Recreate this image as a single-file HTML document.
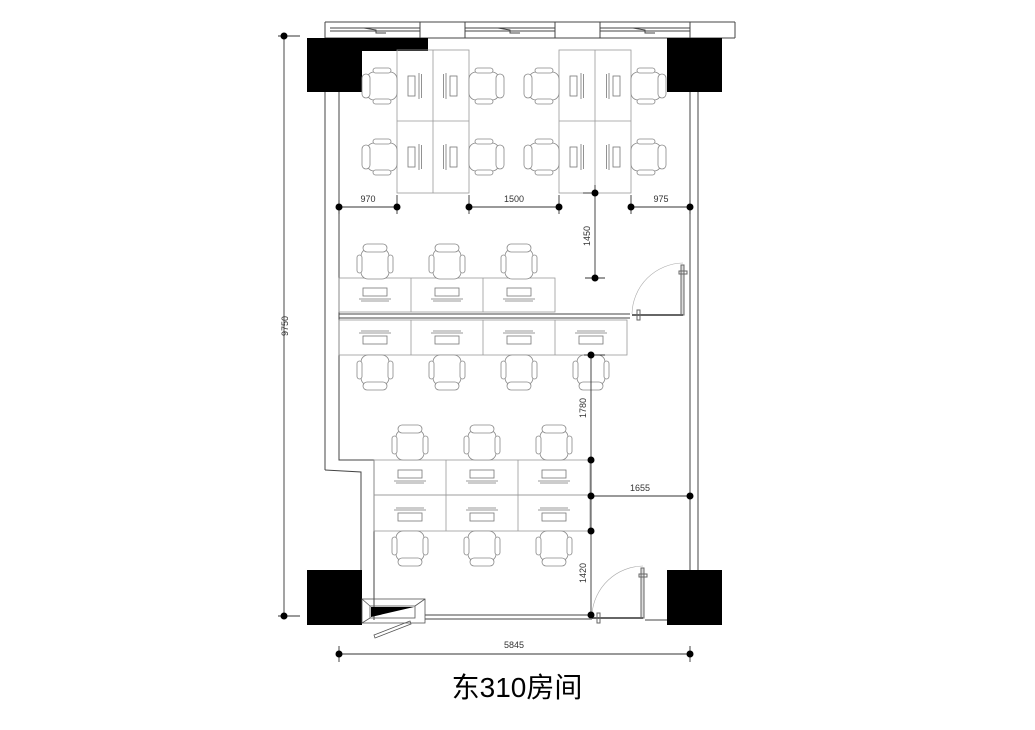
<!DOCTYPE html>
<html><head><meta charset="utf-8"><style>
html,body{margin:0;padding:0;background:#fff;}
svg{display:block;}
text{font-family:"Liberation Sans",sans-serif;}
</style></head><body>
<svg width="1035" height="730" viewBox="0 0 1035 730" xmlns="http://www.w3.org/2000/svg">
<defs>
<g id="ch" fill="#fff" stroke="#888" stroke-width="0.8">
<rect x="-14" y="-13" width="28" height="30" rx="7"/>
<rect x="-12" y="-18" width="24" height="8" rx="4"/>
<rect x="-18" y="-7" width="5" height="18" rx="2.5"/>
<rect x="13" y="-7" width="5" height="18" rx="2.5"/>
</g>
<g id="pcd" fill="none" stroke="#777" stroke-width="0.8">
<rect x="-12" y="-7" width="24" height="8"/>
<line x1="-16" y1="4" x2="16" y2="4"/><line x1="-14" y1="6" x2="14" y2="6"/>
</g>
<g id="pcv" fill="none" stroke="#777" stroke-width="0.8">
<rect x="-12" y="-10" width="7" height="20"/>
<line x1="-1" y1="-13" x2="-1" y2="13"/><line x1="1.5" y1="-12" x2="1.5" y2="12"/>
</g>
</defs>
<g fill="none" stroke="#444" stroke-width="1">
<!-- top window band -->
<line x1="325" y1="22" x2="735" y2="22"/>
<line x1="325" y1="38" x2="735" y2="38"/>
<line x1="325" y1="22" x2="325" y2="470"/>
<line x1="735" y1="22" x2="735" y2="38"/>
<line x1="420" y1="22" x2="420" y2="38"/><line x1="465" y1="22" x2="465" y2="38"/>
<line x1="555" y1="22" x2="555" y2="38"/><line x1="600" y1="22" x2="600" y2="38"/>
<line x1="690" y1="22" x2="690" y2="38"/>
<line x1="330" y1="28" x2="420" y2="28"/><line x1="330" y1="31" x2="420" y2="31"/>
<line x1="465" y1="28" x2="555" y2="28"/><line x1="465" y1="31" x2="555" y2="31"/>
<line x1="600" y1="28" x2="690" y2="28"/><line x1="600" y1="31" x2="690" y2="31"/>
<!-- left walls -->
<polyline points="325,470 361,472 361,570"/>
<polyline points="339,92 339,460 374,460 374,620"/>
<!-- right walls -->
<line x1="690" y1="92" x2="690" y2="570"/>
<line x1="698" y1="92" x2="698" y2="570"/>
<!-- mid partition -->
<line x1="339" y1="314" x2="630" y2="314"/>
<line x1="339" y1="318" x2="630" y2="318"/>
<!-- bottom wall -->
<line x1="425" y1="615" x2="590" y2="615"/>
<line x1="425" y1="619" x2="590" y2="619"/>
<line x1="645" y1="620" x2="667" y2="620"/>
</g>
<g stroke="#444" stroke-width="1" fill="none">
<path d="M364,28 l12,2 l0,3 l10,0"/><path d="M498,28 l12,2 l0,3 l10,0"/><path d="M633,28 l12,2 l0,3 l10,0"/>
</g>
<!-- columns -->
<g fill="#000">
<rect x="307" y="38" width="55" height="54"/><rect x="362" y="38" width="66" height="13"/>
<rect x="667" y="38" width="55" height="54"/>
<rect x="307" y="570" width="55" height="55"/>
<rect x="667" y="570" width="55" height="55"/>
</g>
<!-- top desks -->
<g fill="none" stroke="#999" stroke-width="0.8">
<rect x="397" y="50" width="72" height="143"/><line x1="433" y1="50" x2="433" y2="193"/><line x1="397" y1="121" x2="469" y2="121"/>
<rect x="559" y="50" width="72" height="143"/><line x1="595" y1="50" x2="595" y2="193"/><line x1="559" y1="121" x2="631" y2="121"/>
</g>
<use href="#pcv" x="420" y="86"/><use href="#pcv" x="420" y="157"/>
<use href="#pcv" x="445" y="86" transform="rotate(180 445 86) translate(0 0)"/>
<use href="#pcv" x="582" y="86"/><use href="#pcv" x="582" y="157"/>
<use href="#pcv" x="608" y="86" transform="rotate(180 608 86)"/><use href="#pcv" x="608" y="157" transform="rotate(180 608 157)"/>
<use href="#pcv" x="445" y="157" transform="rotate(180 445 157)"/>
<g>
<use href="#ch" transform="translate(380 86) rotate(-90)"/><use href="#ch" transform="translate(380 157) rotate(-90)"/>
<use href="#ch" transform="translate(486 86) rotate(90)"/><use href="#ch" transform="translate(486 157) rotate(90)"/>
<use href="#ch" transform="translate(542 86) rotate(-90)"/><use href="#ch" transform="translate(542 157) rotate(-90)"/>
<use href="#ch" transform="translate(648 86) rotate(90)"/><use href="#ch" transform="translate(648 157) rotate(90)"/>
</g>
<!-- middle desks -->
<g fill="none" stroke="#999" stroke-width="0.8">
<rect x="339" y="278" width="216" height="34"/><line x1="411" y1="278" x2="411" y2="312"/><line x1="483" y1="278" x2="483" y2="312"/>
<rect x="339" y="320" width="288" height="35"/><line x1="411" y1="320" x2="411" y2="355"/><line x1="483" y1="320" x2="483" y2="355"/><line x1="555" y1="320" x2="555" y2="355"/>
<rect x="374" y="460" width="216" height="35"/><line x1="446" y1="460" x2="446" y2="531"/><line x1="518" y1="460" x2="518" y2="531"/>
<rect x="374" y="495" width="216" height="36"/>
</g>
<use href="#pcd" x="375" y="295"/><use href="#pcd" x="447" y="295"/><use href="#pcd" x="519" y="295"/>
<use href="#pcd" transform="translate(375 337) rotate(180)"/><use href="#pcd" transform="translate(447 337) rotate(180)"/><use href="#pcd" transform="translate(519 337) rotate(180)"/><use href="#pcd" transform="translate(591 337) rotate(180)"/>
<use href="#pcd" x="410" y="477"/><use href="#pcd" x="482" y="477"/><use href="#pcd" x="554" y="477"/>
<use href="#pcd" transform="translate(410 514) rotate(180)"/><use href="#pcd" transform="translate(482 514) rotate(180)"/><use href="#pcd" transform="translate(554 514) rotate(180)"/>
<use href="#ch" transform="translate(375 262)"/><use href="#ch" transform="translate(447 262)"/><use href="#ch" transform="translate(519 262)"/>
<use href="#ch" transform="translate(375 372) rotate(180)"/><use href="#ch" transform="translate(447 372) rotate(180)"/><use href="#ch" transform="translate(519 372) rotate(180)"/><use href="#ch" transform="translate(591 372) rotate(180)"/>
<use href="#ch" transform="translate(410 443)"/><use href="#ch" transform="translate(482 443)"/><use href="#ch" transform="translate(554 443)"/>
<use href="#ch" transform="translate(410 548) rotate(180)"/><use href="#ch" transform="translate(482 548) rotate(180)"/><use href="#ch" transform="translate(554 548) rotate(180)"/>
<!-- doors -->
<g fill="none" stroke="#666" stroke-width="1">
<path d="M632,314 A52,52 0 0 1 683,263" stroke="#aaa" stroke-width="0.6"/>
<rect x="681" y="265" width="3" height="50" fill="#ddd"/>
<line x1="632" y1="315" x2="683" y2="315" stroke-width="2"/>
<rect x="637" y="310" width="3" height="10"/><rect x="679" y="271" width="8" height="3"/>
<path d="M592,614 A52,52 0 0 1 643,566" stroke="#aaa" stroke-width="0.6"/>
<rect x="641" y="568" width="3" height="50" fill="#ddd"/>
<line x1="592" y1="618" x2="643" y2="618" stroke-width="2"/>
<rect x="597" y="613" width="3" height="10"/><rect x="639" y="574" width="8" height="3"/>
</g>
<!-- small box bottom left -->
<g fill="none" stroke="#555" stroke-width="0.8">
<rect x="362" y="599" width="63" height="24"/>
<rect x="370" y="606" width="45" height="12"/>
<line x1="362" y1="599" x2="370" y2="606"/><line x1="425" y1="599" x2="415" y2="606"/>
<line x1="362" y1="623" x2="370" y2="618"/>
<path d="M374,635 l36,-14 l1,3 l-36,14 z"/>
</g>
<polygon points="371,607 414,607 371,617" fill="#000"/>
<!-- dimensions -->
<g stroke="#333" stroke-width="0.9" fill="none">
<line x1="284" y1="36" x2="284" y2="616"/><line x1="278" y1="36" x2="300" y2="36"/><line x1="278" y1="616" x2="300" y2="616"/>
<line x1="339" y1="207" x2="397" y2="207"/><line x1="469" y1="207" x2="559" y2="207"/><line x1="631" y1="207" x2="690" y2="207"/>
<line x1="339" y1="200" x2="339" y2="214"/><line x1="397" y1="195" x2="397" y2="214"/><line x1="469" y1="195" x2="469" y2="214"/><line x1="559" y1="195" x2="559" y2="214"/><line x1="631" y1="195" x2="631" y2="214"/><line x1="690" y1="200" x2="690" y2="214"/>
<line x1="595" y1="185" x2="595" y2="276"/><line x1="583" y1="193" x2="595" y2="193"/><line x1="585" y1="278" x2="605" y2="278"/>
<line x1="591" y1="355" x2="591" y2="620"/><line x1="584" y1="355" x2="605" y2="355"/>
<line x1="591" y1="496" x2="690" y2="496"/>
<line x1="339" y1="654" x2="690" y2="654"/><line x1="339" y1="646" x2="339" y2="662"/><line x1="690" y1="646" x2="690" y2="662"/>
</g>
<g fill="#000">
<circle cx="284" cy="36" r="3.5"/><circle cx="284" cy="616" r="3.5"/>
<circle cx="339" cy="207" r="3.5"/><circle cx="397" cy="207" r="3.5"/><circle cx="469" cy="207" r="3.5"/><circle cx="559" cy="207" r="3.5"/><circle cx="631" cy="207" r="3.5"/><circle cx="690" cy="207" r="3.5"/>
<circle cx="595" cy="193" r="3.5"/><circle cx="595" cy="278" r="3.5"/>
<circle cx="591" cy="355" r="3.5"/><circle cx="591" cy="460" r="3.5"/><circle cx="591" cy="496" r="3.5"/><circle cx="690" cy="496" r="3.5"/><circle cx="591" cy="531" r="3.5"/><circle cx="591" cy="615" r="3.5"/>
<circle cx="339" cy="654" r="3.5"/><circle cx="690" cy="654" r="3.5"/>
</g>
<g font-size="9" fill="#333" text-anchor="middle">
<text x="368" y="202">970</text><text x="514" y="202">1500</text><text x="661" y="202">975</text>
<text x="640" y="491">1655</text><text x="514" y="648">5845</text>
<text transform="translate(288 326) rotate(-90)">9750</text>
<text transform="translate(590 236) rotate(-90)">1450</text>
<text transform="translate(586 408) rotate(-90)">1780</text>
<text transform="translate(586 573) rotate(-90)">1420</text>
</g>
<text x="517" y="697" font-size="28" text-anchor="middle" fill="#000" style="font-family:'Liberation Sans','Noto Sans CJK SC',sans-serif">东310房间</text>
</svg>
</body></html>
